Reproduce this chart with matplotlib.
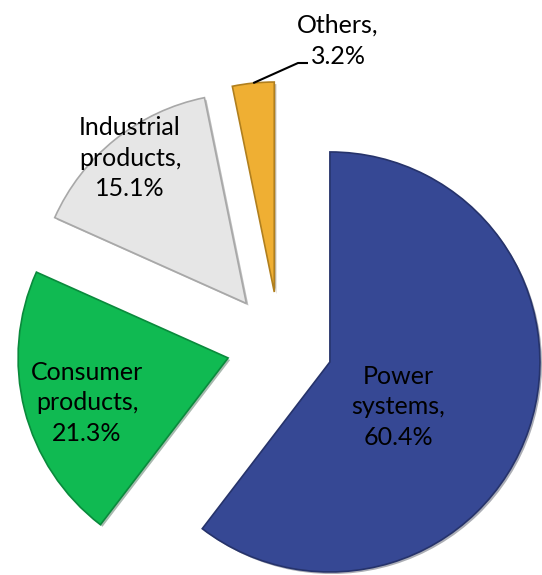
import matplotlib.pyplot as plt
import matplotlib.patheffects as pe
import numpy as np

# data
categories = ["Power\nsystems", "Consumer\nproducts", "Industrial\nproducts", "Others"]
shares = [60.4, 21.3, 15.1, 3.2]
colors = ["#364894", "#10BA52", "#E6E6E6", "#EFAF33"]
edge_colors = ["#26336B", "#0A8A3C", "#A8A8A8", "#B07F1E"]

plt.rcParams["font.family"] = ["Lato", "DejaVu Sans"]

W, H = 542, 575
fig = plt.figure(figsize=(W / 100, H / 100), dpi=100)
ax = fig.add_axes([0, 0, 1, 1])

# pixel geometry of the pie (radius 210 px, centre at 279.6, 344.9 from top-left)
R_PX = 210.0
CX, CY = 279.6, 344.9


def px(x, y):
    # convert image pixel position to data coords
    return (x - CX) / R_PX, (CY - y) / R_PX


wedges, _ = ax.pie(
    shares,
    startangle=90,
    counterclock=False,
    explode=[0.253] * len(shares),
    colors=colors,
    radius=1.0,
    wedgeprops=dict(linewidth=1.2),
)
for w, ec in zip(wedges, edge_colors):
    w.set_edgecolor(ec)
    w.set_path_effects(
        [pe.SimplePatchShadow(offset=(1.5, -1.5), alpha=0.35), pe.Normal()]
    )

ax.set_xlim(-CX / R_PX, (W - CX) / R_PX)
ax.set_ylim(-(H - CY) / R_PX, CY / R_PX)
ax.set_aspect("equal")
ax.axis("off")

label_pos = [(398, 407), (87, 403), (130, 158), (338, 41)]
for lab, val, pos in zip(categories, shares, label_pos):
    x, y = px(*pos)
    ax.text(x, y, f"{lab},\n{val:.1f}%", ha="center", va="center",
            fontsize=18, color="black", linespacing=1.42)

# leader line for the small slice
w = wedges[-1]
mid = np.deg2rad((w.theta1 + w.theta2) / 2)
ax_ = w.center[0] + w.r * np.cos(mid)
ay_ = w.center[1] + w.r * np.sin(mid)
ex, ey = px(298, 63)
tx, _ = px(308, 63)
ax.plot([ax_, ex, tx], [ay_, ey, ey], color="black", lw=1.5,
        solid_capstyle="butt")

fig.savefig("out.png", dpi=100, facecolor="white")
